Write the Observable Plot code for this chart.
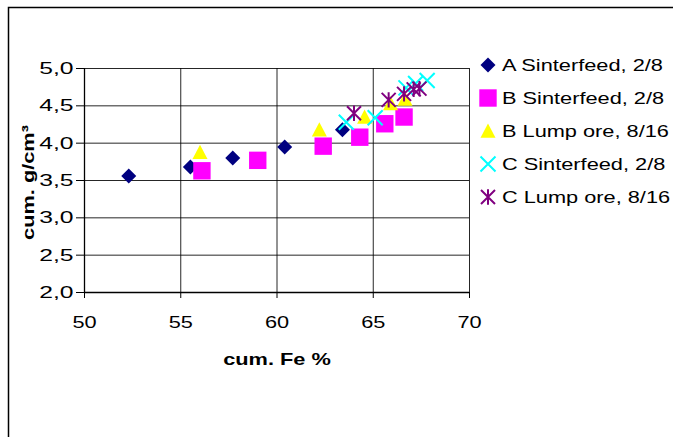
<!DOCTYPE html>
<html>
<head>
<meta charset="utf-8">
<script src="https://cdn.jsdelivr.net/npm/d3@7"></script>
<script src="https://cdn.jsdelivr.net/npm/@observablehq/plot@0.6"></script>
<style>
  html, body { margin: 0; padding: 0; background: #fff; }
  #chart { position: relative; width: 673px; height: 437px; overflow: hidden; }
  svg { font-family: "Liberation Sans", Arial, sans-serif; }
</style>
</head>
<body>
<div id="chart"></div>
<script>
// ---- data ----
const seriesNames = ["A Sinterfeed, 2/8", "B Sinterfeed, 2/8", "B Lump ore, 8/16", "C Sinterfeed, 2/8", "C Lump ore, 8/16"];
const aFe = [52.3, 55.5, 57.7, 60.4, 63.4];
const aDen = [3.56, 3.68, 3.80, 3.95, 4.18];
const bSinterFe = [56.1, 59.0, 62.4, 64.3, 65.6, 66.6];
const bSinterDen = [3.63, 3.77, 3.96, 4.08, 4.26, 4.35];
const bLumpFe = [56.0, 62.2, 64.55, 65.9, 66.65];
const bLumpDen = [3.88, 4.18, 4.35, 4.53, 4.59];
const cSinterFe = [63.6, 65.1, 66.7, 67.2, 67.8];
const cSinterDen = [4.28, 4.34, 4.74, 4.80, 4.84];
const cLumpFe = [64.0, 65.8, 66.6, 67.1, 67.4];
const cLumpDen = [4.40, 4.58, 4.66, 4.72, 4.73];
const xTicks = [50, 55, 60, 65, 70];
const yTicks = [2.0, 2.5, 3.0, 3.5, 4.0, 4.5, 5.0];

// ---- custom marker shapes (h = half-size derived from Plot's r) ----
const half = size => Math.sqrt(size / Math.PI);
const symDiamond = { draw(c, s) { const h = half(s); c.moveTo(0, -h); c.lineTo(h, 0); c.lineTo(0, h); c.lineTo(-h, 0); c.closePath(); } };
const symSquare = { draw(c, s) { const h = half(s); c.rect(-h, -h, 2 * h, 2 * h); } };
const symTriangle = { draw(c, s) { const h = half(s); c.moveTo(0, -h); c.lineTo(h, h * 0.9); c.lineTo(-h, h * 0.9); c.closePath(); } };
const symX = { draw(c, s) { const h = half(s); c.moveTo(-h, -h); c.lineTo(h, h); c.moveTo(h, -h); c.lineTo(-h, h); } };
const symStar = { draw(c, s) { const h = half(s); c.moveTo(-h, -h); c.lineTo(h, h); c.moveTo(h, -h); c.lineTo(-h, h); c.moveTo(0, -h * 1.1); c.lineTo(0, h * 1.1); } };

const series = [
  { name: seriesNames[0], fe: aFe, den: aDen, sym: symDiamond, r: 7.5, fill: "#000080", stroke: "none" },
  { name: seriesNames[1], fe: bSinterFe, den: bSinterDen, sym: symSquare, r: 8.7, fill: "#ff00ff", stroke: "none" },
  { name: seriesNames[2], fe: bLumpFe, den: bLumpDen, sym: symTriangle, r: 7.5, fill: "#ffff00", stroke: "none" },
  { name: seriesNames[3], fe: cSinterFe, den: cSinterDen, sym: symX, r: 7.5, fill: "none", stroke: "#00ffff" },
  { name: seriesNames[4], fe: cLumpFe, den: cLumpDen, sym: symStar, r: 7, fill: "none", stroke: "#800080" }
];

const fmt = d => d.toFixed(1).replace(".", ",");
const FS = 17;

const marks = [
  Plot.gridX(xTicks, { stroke: "#000", strokeOpacity: 0.85, strokeWidth: 1 }),
  Plot.gridY(yTicks, { stroke: "#000", strokeOpacity: 0.85, strokeWidth: 1 }),
  Plot.ruleX([50], { stroke: "#000", strokeWidth: 1.3 }),
  Plot.ruleY([2], { stroke: "#000", strokeWidth: 1.3 }),
  Plot.axisX(xTicks, { tickSize: 6, tickPadding: 17, fontSize: FS, fill: "#000", stroke: "#000", label: null }),
  Plot.axisY(yTicks, { tickSize: 8, tickPadding: 3, fontSize: FS, fill: "#000", stroke: "#000", tickFormat: fmt, label: null, className: "ytick" }),
  Plot.text(["cum. Fe %"], { frameAnchor: "bottom", dy: 67, textAnchor: "middle", lineAnchor: "middle", fontSize: FS, fontWeight: "bold", fill: "#000" }),
  Plot.text(["cum. g/cm³"], { frameAnchor: "left", dx: -56, dy: 2, rotate: -90, textAnchor: "middle", lineAnchor: "middle", fontSize: FS, fontWeight: "bold", fill: "#000" })
];
for (const s of series) {
  const rows = s.fe.map((x, i) => ({ x, y: s.den[i] }));
  marks.push(Plot.dot(rows, { x: "x", y: "y", symbol: () => s.sym, r: s.r, fill: s.fill, stroke: s.stroke, strokeWidth: 2 }));
}

const plot = Plot.plot({
  width: 673,
  height: 437,
  marginLeft: 84,
  marginTop: 68,
  marginRight: 204,
  marginBottom: 145,
  x: { domain: [50, 70] },
  y: { domain: [2, 5] },
  symbol: { type: "identity" },
  style: { background: "#fff", fontFamily: "'Liberation Sans', Arial, sans-serif", overflow: "visible" },
  marks
});

// outer chart border (left and top edges visible)
const svg = d3.select(plot);
svg.insert("rect", ":first-child")
  .attr("x", 8.5).attr("y", 7.5).attr("width", 720).attr("height", 520)
  .attr("fill", "#fff").attr("stroke", "#000").attr("stroke-width", 1.5);

// legend
const lg = svg.append("g").attr("transform", "translate(488,65)");
series.forEach((s, i) => {
  const row = lg.append("g").attr("transform", `translate(0,${i * 33})`);
  row.append("path")
    .attr("d", d3.symbol(s.sym, Math.PI * s.r * s.r)())
    .attr("fill", s.fill).attr("stroke", s.stroke).attr("stroke-width", 2);
  row.append("text")
    .attr("x", 14).attr("y", 0).attr("dy", "0.36em")
    .attr("text-anchor", "start")
    .attr("font-size", FS).attr("fill", "#000")
    .text(s.name);
});

document.getElementById("chart").appendChild(plot);

// widen text to mimic the reference's wide glyph rendering
plot.querySelectorAll("text").forEach(t => {
  const L = t.getComputedTextLength();
  if (L > 0) {
    const f = t.closest(".ytick") ? 1.45 : 1.28;
    t.setAttribute("textLength", (L * f).toFixed(1));
    t.setAttribute("lengthAdjust", "spacingAndGlyphs");
  }
});
</script>
</body>
</html>
